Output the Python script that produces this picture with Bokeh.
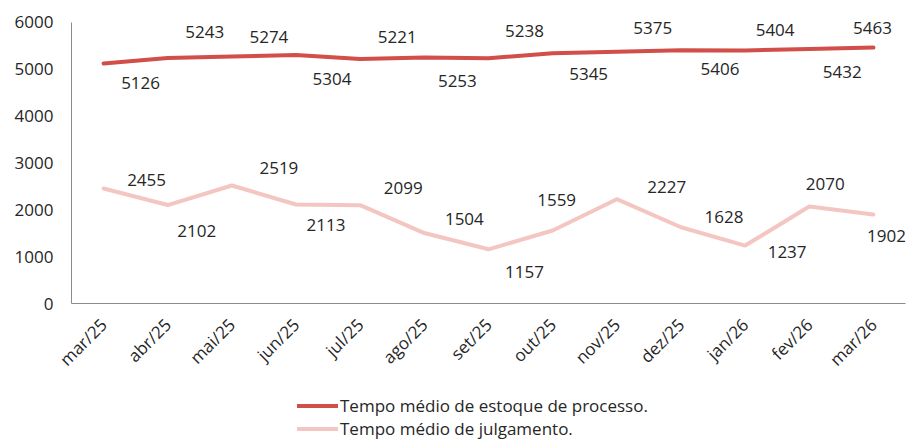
import math
from bokeh.plotting import figure
from bokeh.layouts import column
from bokeh.models import ColumnDataSource, Legend, LegendItem, FixedTicker, FactorRange, Range1d
from bokeh.core.properties import value
from bokeh.embed import file_html
from bokeh.resources import INLINE

# ---- data ----
months = ["mar/25", "abr/25", "mai/25", "jun/25", "jul/25", "ago/25", "set/25",
          "out/25", "nov/25", "dez/25", "jan/26", "fev/26", "mar/26"]
estoque = [5126, 5243, 5274, 5304, 5221, 5253, 5238, 5345, 5375, 5406, 5404, 5432, 5463]
julgamento = [2455, 2102, 2519, 2113, 2099, 1504, 1157, 1559, 2227, 1628, 1237, 2070, 1902]
y_ticks = [0, 1000, 2000, 3000, 4000, 5000, 6000]
series_names = ["Tempo médio de estoque de processo.", "Tempo médio de julgamento."]

# ---- label placement (screen px offsets, style only) ----
est_dx = [37, 37, 37, 36, 37, 33, 36, 36, 36, 39, 30, 33, -1]
est_dy = [20, -26, -19, 24, -22, 24, -27, 21, -24, 19, -20, 23, -20]
jul_dx = [43, 29, 47, 30, 43, 40, 36, 4, 50, 43, 42, 16, 13]
jul_dy = [-9, 26, -18, 20, -17, -14, 23, -30, -12, -10, 6, -23, 22]

FONT = "Open Sans"
RED = "#D24E48"
PINK = "#F3C6C2"
TXT = "#262626"

# y range extends a bit above the 6000 axis end so top labels are not clipped
p = figure(x_range=FactorRange(*months), y_range=Range1d(0, 6405),
           width=909, height=390, output_backend="svg", toolbar_location=None,
           min_border_left=71, min_border_right=4, min_border_top=3, min_border_bottom=87)
p.outline_line_color = None
p.grid.visible = False
p.background_fill_color = "white"

src1 = ColumnDataSource(dict(m=months, v=estoque, t=[str(v) for v in estoque], dx=est_dx, dy=est_dy))
src2 = ColumnDataSource(dict(m=months, v=julgamento, t=[str(v) for v in julgamento], dx=jul_dx, dy=jul_dy))

line_kw = dict(line_width=4, line_join="round", line_cap="round")
p.line("m", "v", source=src1, line_color=RED, **line_kw)
p.line("m", "v", source=src2, line_color=PINK, **line_kw)

for s in (src1, src2):
    p.text(x="m", y="v", text="t", x_offset="dx", y_offset="dy", source=s,
           text_align="center", text_baseline="middle", text_font=value(FONT),
           text_font_size="17px", text_color=TXT)

# axes
p.yaxis.ticker = FixedTicker(ticks=y_ticks)
p.yaxis.bounds = (0, 6000)
for ax in (p.xaxis[0], p.yaxis[0]):
    ax.axis_line_color = "#8C8C8C"
    ax.axis_line_width = 1
    ax.major_tick_line_color = None
    ax.minor_tick_line_color = None
    ax.major_tick_out = 0
    ax.major_tick_in = 0
    ax.major_label_text_font = FONT
    ax.major_label_text_font_size = "17px"
    ax.major_label_text_color = TXT
p.yaxis.major_label_standoff = 18
p.xaxis.major_label_orientation = math.pi / 4
p.xaxis.major_label_standoff = 18

# ---- legend strip (separate small figure below the chart) ----
lg = figure(x_range=FactorRange(*months), y_range=Range1d(0, 6000),
            width=909, height=51, output_backend="svg", toolbar_location=None,
            x_axis_location=None, y_axis_location=None,
            min_border_left=0, min_border_right=0, min_border_top=0, min_border_bottom=0)
lg.grid.visible = False
lg.outline_line_color = None
l1 = lg.line("m", "v", source=src1, line_color=RED, **line_kw)
l2 = lg.line("m", "v", source=src2, line_color=PINK, **line_kw)
l1.visible = False
l2.visible = False

legend = Legend(items=[LegendItem(label=series_names[0], renderers=[l1]),
                       LegendItem(label=series_names[1], renderers=[l2])],
                location=(226, 1), orientation="vertical", padding=0, margin=0,
                spacing=-3, glyph_width=41, glyph_height=19, label_height=19,
                label_standoff=2, border_line_color=None, background_fill_alpha=0,
                label_text_font=FONT, label_text_font_size="17px", label_text_color=TXT,
                click_policy="none")
lg.add_layout(legend)

layout = column(p, lg, spacing=0)
open("out.html", "w").write(file_html(layout, INLINE))
